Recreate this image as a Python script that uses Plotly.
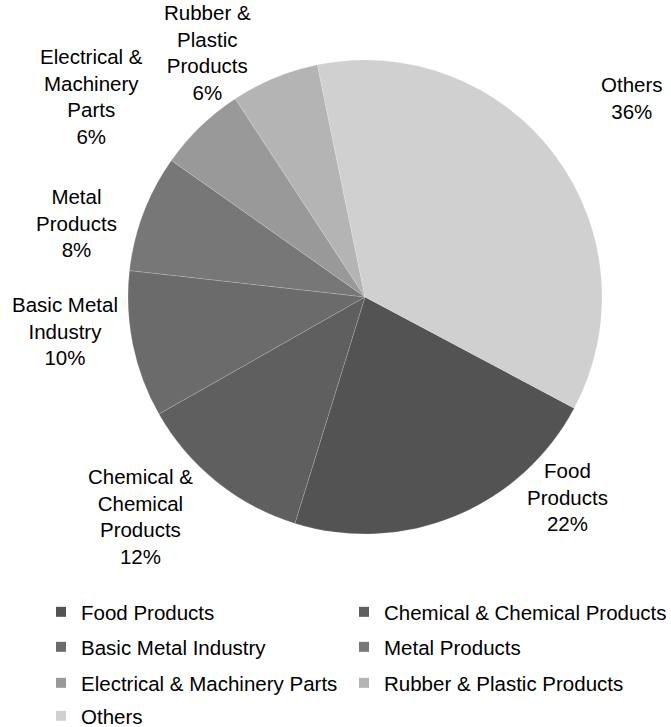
import plotly.graph_objects as go

# Industry shares (%)
categories = [
    "Food Products",
    "Chemical & Chemical Products",
    "Basic Metal Industry",
    "Metal Products",
    "Electrical & Machinery Parts",
    "Rubber & Plastic Products",
    "Others",
]
shares = [22, 12, 10, 8, 6, 6, 36]

# Multi-line captions written beside the slices
slice_captions = [
    "Food<br>Products",
    "Chemical &<br>Chemical<br>Products",
    "Basic Metal<br>Industry",
    "Metal<br>Products",
    "Electrical &<br>Machinery<br>Parts",
    "Rubber &<br>Plastic<br>Products",
    "Others",
]

greys = ["#535353", "#5f5f5f", "#6b6b6b", "#777777", "#999999", "#b4b4b4", "#d0d0d0"]

W, H = 671, 727
FONT = "Liberation Sans, Arial, sans-serif"
FS = 20.5

fig = go.Figure()

fig.add_trace(go.Pie(
    labels=categories,
    values=shares,
    sort=False,
    direction="clockwise",
    rotation=118,
    marker=dict(colors=greys, line=dict(color="rgba(255,255,255,0.2)", width=0.8)),
    textinfo="none",
    hoverinfo="label+percent",
    showlegend=False,
    domain=dict(x=[128 / W, 602 / W], y=[(H - 534) / H, (H - 60) / H]),
))

# Caption anchor points (pixel centres)
caption_xy = [(567, 497), (140, 516), (65, 331), (76, 223), (91, 97), (207, 52), (632, 98)]
for cap, val, (cx, cy) in zip(slice_captions, shares, caption_xy):
    fig.add_annotation(
        text=f"{cap}<br>{val}%",
        x=cx / W, y=1 - cy / H, xref="paper", yref="paper",
        xanchor="center", yanchor="middle", showarrow=False, align="center",
        font=dict(family=FONT, size=FS, color="#000000"),
    )

# Legend grid: two columns, four rows, one legend box per entry
col_x = [41, 344]
row_y = [612, 647, 683, 716]
layout_legends = {}
for i, name in enumerate(categories):
    ln = "legend" if i == 0 else f"legend{i + 1}"
    r, c = divmod(i, 2)
    fig.add_trace(go.Scatter(
        x=[None], y=[None], mode="markers", name=name,
        marker=dict(symbol="square", size=10, color=greys[i]),
        legend=ln, hoverinfo="skip",
    ))
    layout_legends[ln] = dict(
        orientation="h", x=col_x[c] / W, y=1 - row_y[r] / H,
        xanchor="left", yanchor="middle", itemwidth=30,
        font=dict(family=FONT, size=FS, color="#000000"),
        bgcolor="rgba(0,0,0,0)",
    )

fig.update_layout(
    width=W, height=H,
    margin=dict(l=0, r=0, t=0, b=0, autoexpand=False),
    paper_bgcolor="white", plot_bgcolor="white",
    xaxis=dict(visible=False), yaxis=dict(visible=False),
    font=dict(family=FONT, size=FS, color="#000000"),
    **layout_legends,
)

fig.write_html("out.html")
